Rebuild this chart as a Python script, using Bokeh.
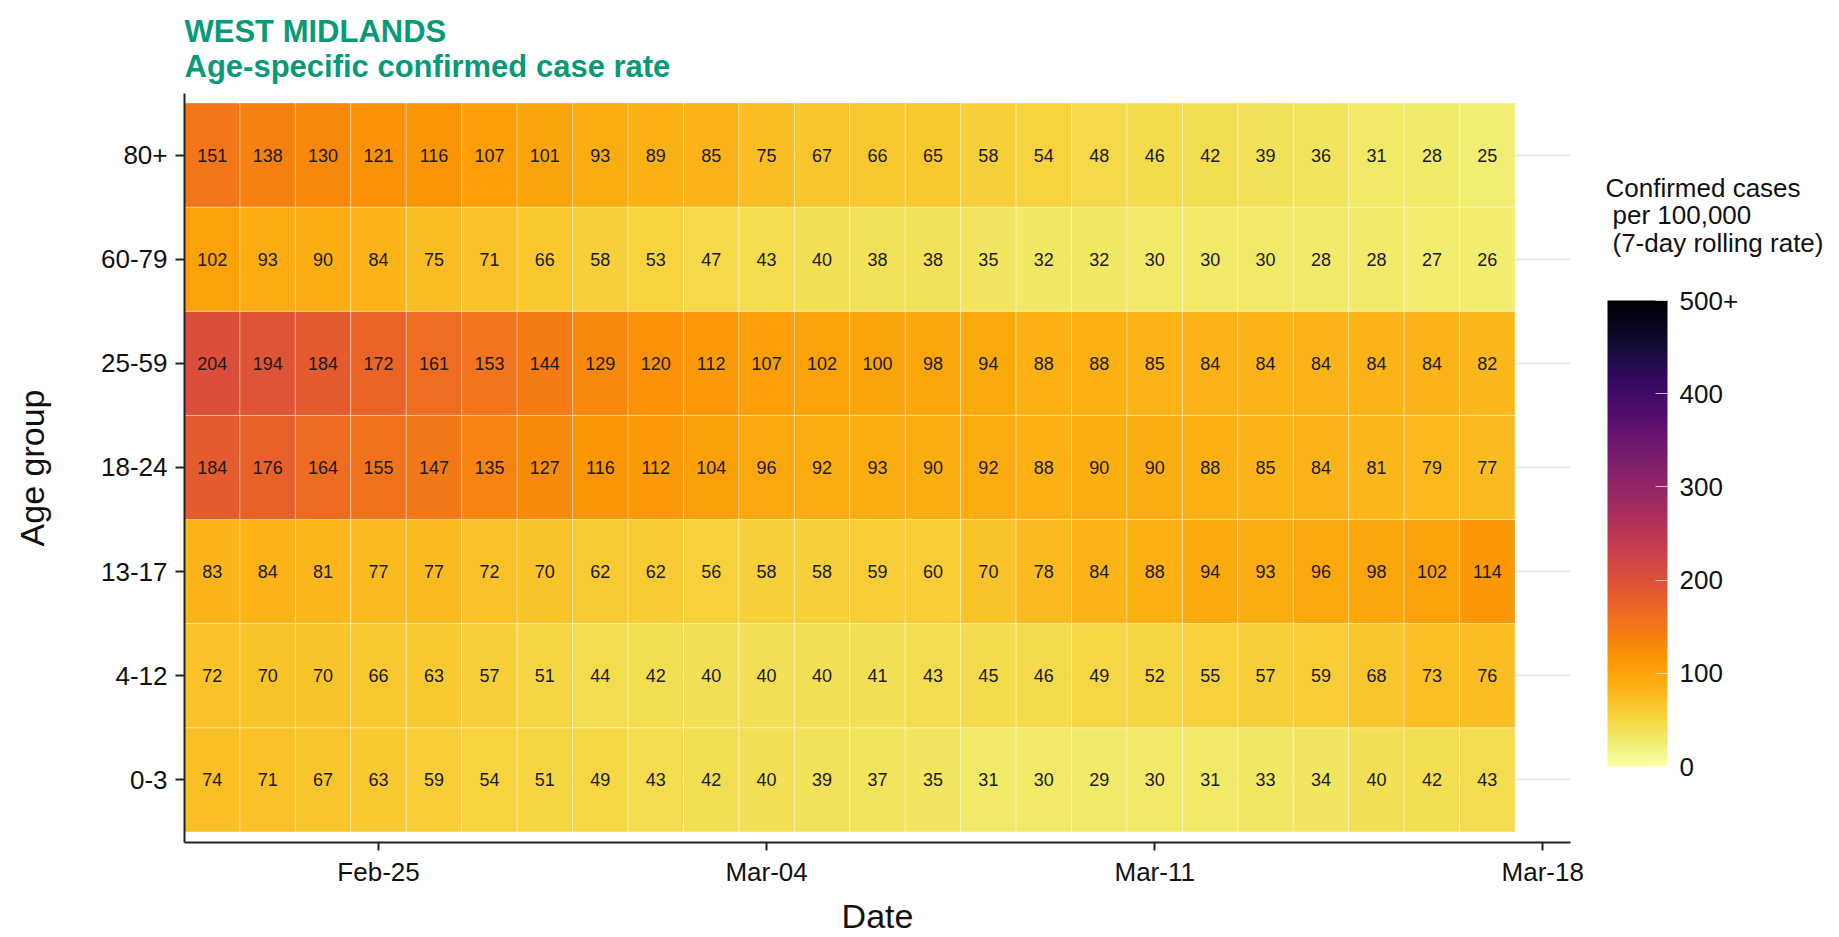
import pandas as pd
from bokeh.plotting import figure
from bokeh.layouts import row
from bokeh.models import (ColumnDataSource, Range1d, FixedTicker, LinearColorMapper,
                          ColorBar, Title, Label, DatetimeTickFormatter)
from bokeh.palettes import Inferno256
from bokeh.transform import transform
from bokeh.core.properties import value
from bokeh.embed import file_html
from bokeh.resources import INLINE

# ---------------- data ----------------
age_groups = ["0-3", "4-12", "13-17", "18-24", "25-59", "60-79", "80+"]
dates = pd.date_range("2021-02-22", "2021-03-17", freq="D")

rate_0_3   = [74, 71, 67, 63, 59, 54, 51, 49, 43, 42, 40, 39, 37, 35, 31, 30, 29, 30, 31, 33, 34, 40, 42, 43]
rate_4_12  = [72, 70, 70, 66, 63, 57, 51, 44, 42, 40, 40, 40, 41, 43, 45, 46, 49, 52, 55, 57, 59, 68, 73, 76]
rate_13_17 = [83, 84, 81, 77, 77, 72, 70, 62, 62, 56, 58, 58, 59, 60, 70, 78, 84, 88, 94, 93, 96, 98, 102, 114]
rate_18_24 = [184, 176, 164, 155, 147, 135, 127, 116, 112, 104, 96, 92, 93, 90, 92, 88, 90, 90, 88, 85, 84, 81, 79, 77]
rate_25_59 = [204, 194, 184, 172, 161, 153, 144, 129, 120, 112, 107, 102, 100, 98, 94, 88, 88, 85, 84, 84, 84, 84, 84, 82]
rate_60_79 = [102, 93, 90, 84, 75, 71, 66, 58, 53, 47, 43, 40, 38, 38, 35, 32, 32, 30, 30, 30, 28, 28, 27, 26]
rate_80p   = [151, 138, 130, 121, 116, 107, 101, 93, 89, 85, 75, 67, 66, 65, 58, 54, 48, 46, 42, 39, 36, 31, 28, 25]

rates = [rate_0_3, rate_4_12, rate_13_17, rate_18_24, rate_25_59, rate_60_79, rate_80p]

date_ticks = ["2021-02-25", "2021-03-04", "2021-03-11", "2021-03-18"]
cbar_ticks = [0, 100, 200, 300, 400, 500]

title_text = "WEST MIDLANDS\nAge-specific confirmed case rate"
legend_lines = ["Confirmed cases", "per 100,000", "(7-day rolling rate)"]

# ---------------- build table ----------------
def ms(t):
    return pd.Timestamp(t).value / 1e6

xs, ys, vals, labs = [], [], [], []
for gi, r in enumerate(rates):
    for d, v in zip(dates, r):
        xs.append(ms(d))
        ys.append(gi)
        vals.append(v)
        labs.append(str(v))
src = ColumnDataSource(dict(x=xs, y=ys, val=vals, lab=labs))

DAY = 86400000.0
x0 = ms(dates[0]) - DAY / 2
x1 = x0 + 25 * DAY
y0, y1 = -0.602, 6.591

FONT = "Liberation Sans"
GREEN = "#079a77"
INK = "#111111"
TOP, BOTTOM, H = 93, 88, 937

mapper = LinearColorMapper(palette=list(Inferno256[::-1]), low=0, high=500)

# ---------------- main heatmap ----------------
p = figure(width=1600, height=H, output_backend="svg", toolbar_location=None, title=None,
           x_axis_type="datetime", x_range=Range1d(x0, x1), y_range=Range1d(y0, y1),
           min_border_left=184, min_border_right=30, min_border_top=TOP, min_border_bottom=BOTTOM)
p.outline_line_color = None
p.background_fill_color = "white"
p.border_fill_color = "white"

p.rect(x="x", y="y", width=DAY, height=1, source=src,
       fill_color=transform("val", mapper), line_color="white", line_alpha=0.35, line_width=1)
p.text(x="x", y="y", text="lab", source=src, text_align="center", text_baseline="middle",
       text_font=value(FONT), text_font_size="18px", text_color="#1a1a1a")

p.xgrid.grid_line_color = None
p.ygrid.grid_line_color = "#e6e9e1"
p.ygrid.grid_line_width = 2
p.ygrid.ticker = FixedTicker(ticks=list(range(len(age_groups))))

p.xaxis.ticker = FixedTicker(ticks=[ms(t) for t in date_ticks])
p.xaxis.formatter = DatetimeTickFormatter(days="%b-%d", months="%b-%d", hours="%b-%d")
p.yaxis.ticker = FixedTicker(ticks=list(range(len(age_groups))))
p.yaxis.major_label_overrides = {i: g for i, g in enumerate(age_groups)}
for ax in (p.xaxis, p.yaxis):
    ax.axis_line_color = "#222222"
    ax.axis_line_width = 2
    ax.major_tick_line_color = "#222222"
    ax.major_tick_line_width = 2
    ax.major_tick_in = 0
    ax.minor_tick_line_color = None
    ax.major_label_text_font = FONT
    ax.major_label_text_font_size = "26px"
    ax.major_label_text_color = INK
    ax.axis_label_text_font = FONT
    ax.axis_label_text_font_size = "34px"
    ax.axis_label_text_font_style = "normal"
    ax.axis_label_text_color = INK
p.xaxis.major_tick_out = 8
p.yaxis.major_tick_out = 9
p.xaxis.major_label_standoff = 6
p.yaxis.major_label_standoff = 8
p.xaxis.axis_label = "Date"
p.xaxis.axis_label_standoff = 7
p.yaxis.axis_label = "Age group"
p.yaxis.axis_label_standoff = 47

p.add_layout(Title(text=title_text, text_font=FONT, text_font_size="31px", text_font_style="bold",
                   text_color=GREEN, align="left", standoff=19, text_line_height=1.0), "above")

# ---------------- legend panel (data units = pixels, y measured up from page bottom) ----------------
LW = 239
leg = figure(width=LW, height=H, output_backend="svg", toolbar_location=None, title=None,
             x_range=Range1d(0, LW), y_range=Range1d(BOTTOM, H - TOP),
             x_axis_location=None, y_axis_location=None,
             min_border_left=0, min_border_right=0, min_border_top=TOP, min_border_bottom=BOTTOM)
leg.outline_line_color = None
leg.grid.grid_line_color = None
leg.background_fill_color = "white"
leg.border_fill_color = "white"

for i, (line, base) in enumerate(zip(legend_lines, [188, 216, 244])):
    leg.add_layout(Label(x=5 + (0 if i == 0 else 7), y=H - base, text=line,
                         text_font=FONT, text_font_size="26px", text_color=INK,
                         text_baseline="alphabetic", text_align="left"))

cb = ColorBar(color_mapper=mapper, ticker=FixedTicker(ticks=cbar_ticks),
              major_label_overrides={500: "500+"}, width=60, height=466,
              padding=0, margin=0, label_standoff=12, location=(7, 76),
              major_label_text_font=FONT, major_label_text_font_size="26px",
              major_label_text_color=INK, major_tick_line_color="white",
              major_tick_line_alpha=0.7, major_tick_in=12, major_tick_out=0,
              minor_tick_line_color=None, bar_line_color=None,
              background_fill_color=None, border_line_color=None)
leg.add_layout(cb, "center")

open("out.html", "w").write(file_html(row(p, leg), INLINE))
